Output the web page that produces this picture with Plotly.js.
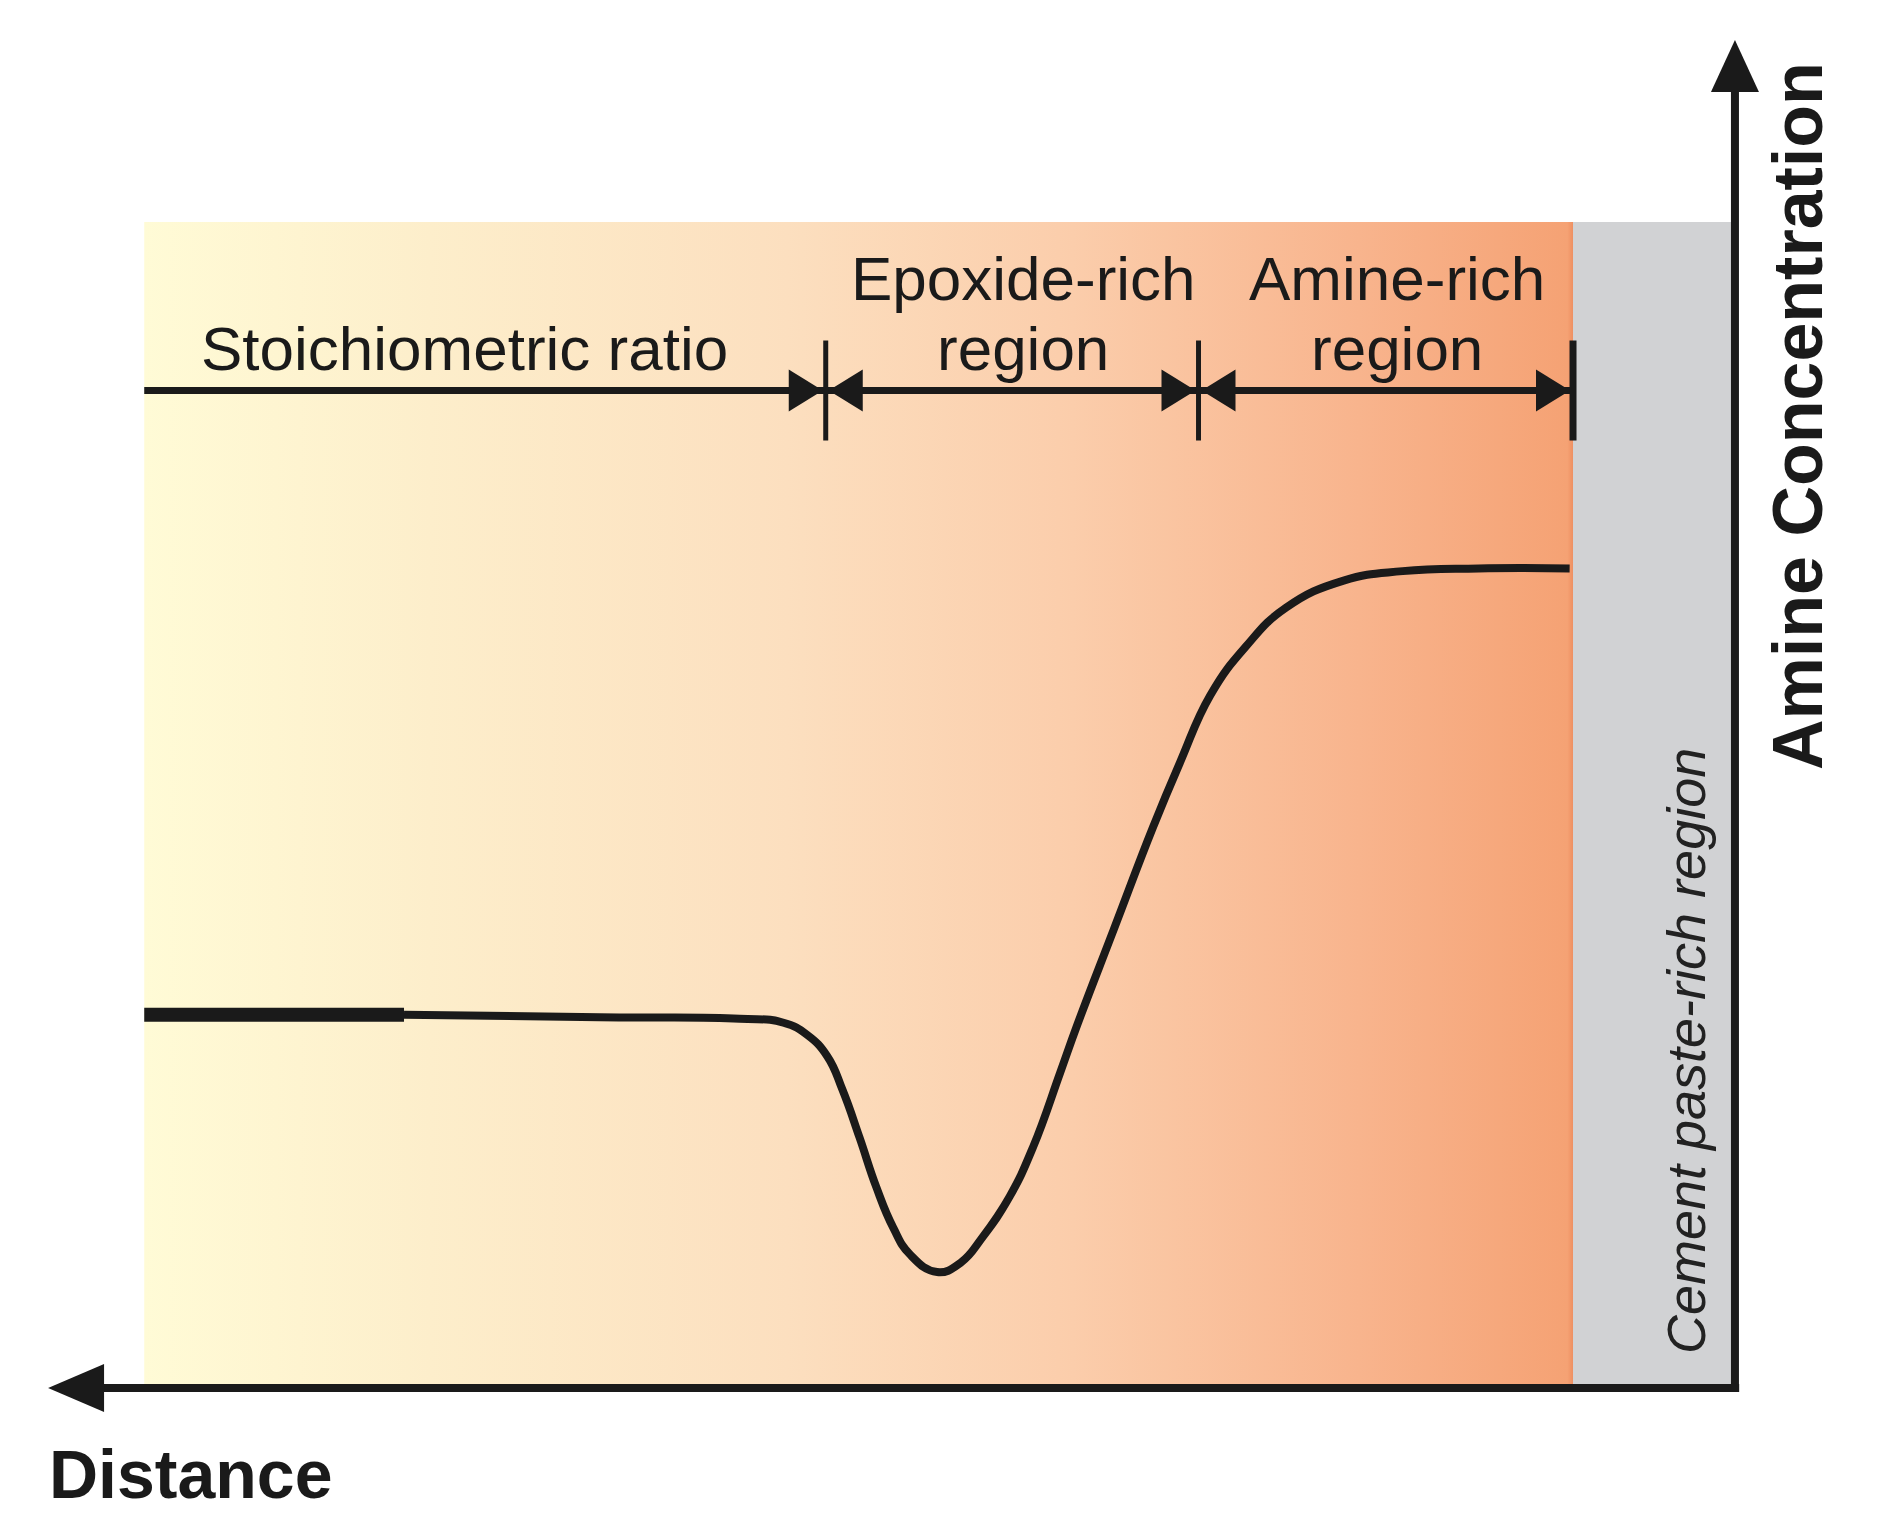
<!DOCTYPE html>
<html>
<head>
<meta charset="utf-8">
<script src="https://cdn.plot.ly/plotly-3.0.1.min.js"></script>
<style>
  html, body { margin: 0; padding: 0; background: #fff; }
  #chart { width: 1878px; height: 1539px; }
</style>
</head>
<body>
<div id="chart"></div>
<script>
// amine concentration profile
// distance runs from the cement paste side (right) towards the left
const distance = [94.3, 78.9, 67.3, 59.0, 56.4, 55.0, 53.8, 52.9, 51.9, 50.9, 49.9, 48.9, 47.3,
    45.9, 44.6, 43.0, 41.6, 40.0, 39.0, 36.8, 34.5, 32.9, 31.1, 29.0, 26.6, 23.2, 19.7, 15.2, 9.8];
const amine = [27.7, 27.7, 27.5, 27.4, 27.1, 26.2, 24.6, 22.1, 18.6, 14.9, 11.9, 9.9, 8.6,
    9.3, 11.2, 14.2, 17.9, 23.4, 26.9, 34.1, 41.6, 46.4, 51.4, 55.0, 57.9, 59.9, 60.6, 60.8, 60.8];

// region borders (same distance units), left edge -> cement paste edge
const regionEdges = [94.3, 53.9, 31.8, 9.6];
const regionTop = 86.5;
const regionLabels = [["Stoichiometric ratio"], ["Epoxide-rich", "region"], ["Amine-rich", "region"]];
const cementLabel = "Cement paste-rich region";
const xTitle = "Distance";
const yTitle = "Amine Concentration";

const ink = "#1a1a1a";
const font = "Liberation Sans, Arial, Helvetica, sans-serif";
const W = 1878, H = 1539;
// axis ends: x = 100 at the left arrow tip, y = 100 at the top arrow tip
const xRange = [102.85, -8.48];
const yRange = [-11.2, 102.97];

// background bands
const bg = {
    type: "scatter", mode: "none", hoverinfo: "skip",
    x: [regionEdges[0], regionEdges[3], regionEdges[3], regionEdges[0]],
    y: [0, 0, regionTop, regionTop],
    fill: "toself",
    fillgradient: {
        type: "horizontal", start: regionEdges[0], stop: regionEdges[3],
        colorscale: [[0, "#fffbd6"], [0.2, "#fdeecb"], [0.45, "#fcdfbf"], [0.65, "#fbcdab"],
            [0.85, "#f8b48d"], [0.996, "#f5a274"], [1, "#ee9062"]]
    }
};
const cement = {
    type: "scatter", mode: "none", hoverinfo: "skip",
    x: [regionEdges[3], 0, 0, regionEdges[3]],
    y: [0, 0, regionTop, regionTop],
    fill: "toself", fillcolor: "#d1d2d4"
};
const curve = {
    type: "scatter", mode: "lines", hoverinfo: "skip",
    x: distance.slice(1), y: amine.slice(1),
    line: {color: ink, width: 8, shape: "spline", smoothing: 1.3}
};
// the first stretch is drawn heavier in the original
const curveStart = {
    type: "scatter", mode: "lines", hoverinfo: "skip",
    x: distance.slice(0, 2), y: amine.slice(0, 2),
    line: {color: ink, width: 14}
};

// shapes: axes with arrow heads, dimension arrows
const dimY = 74.0;
const shapes = [];
const px = (xa, ya, path) => ({
    type: "path", xref: "x", yref: "y", xsizemode: "pixel", ysizemode: "pixel",
    xanchor: xa, yanchor: ya, path: path, fillcolor: ink, line: {width: 0}
});

// y axis
shapes.push({type: "line", xref: "x", yref: "y", xsizemode: "pixel",
    xanchor: 0, x0: 0, x1: 0, y0: -0.3, y1: 96.3, line: {color: ink, width: 8}});
shapes.push(px(0, 100, "M0,0 L-24,-52 L24,-52 Z"));
// x axis
shapes.push({type: "line", xref: "x", yref: "y", ysizemode: "pixel",
    yanchor: 0, x0: -0.25, x1: 96.8, y0: 0, y1: 0, line: {color: ink, width: 8}});
shapes.push(px(100, 0, "M0,0 L56,24 L56,-24 Z"));

// dimension line
shapes.push({type: "line", xref: "x", yref: "y", x0: regionEdges[0], x1: regionEdges[3],
    y0: dimY, y1: dimY, line: {color: ink, width: 7}});
regionEdges.slice(1).forEach((e, i) => {
    const last = i === regionEdges.length - 2;
    shapes.push({type: "line", xref: "x", yref: "y", ysizemode: "pixel", yanchor: dimY,
        x0: e, x1: e, y0: -50, y1: 50, line: {color: ink, width: last ? 7 : 5}});
    shapes.push(px(e, dimY, "M-3,0 L-37,-21 L-37,21 Z"));
    if (!last) shapes.push(px(e, dimY, "M3,0 L37,-21 L37,21 Z"));
});

// labels
const annotations = [];
const lineY = [82.3, 77.1];
const nudges = [-20, 11, 11];
regionLabels.forEach((lines, i) => {
    const mid = (regionEdges[i] + regionEdges[i + 1]) / 2;
    lines.forEach((t, j) => {
        annotations.push({
            text: t, x: mid, xref: "x", y: lineY[lineY.length - lines.length + j], yref: "y",
            xshift: nudges[i], showarrow: false, xanchor: "center", yanchor: "middle",
            font: {family: font, size: 62, color: ink}
        });
    });
});
annotations.push({
    text: cementLabel, x: 2.9, xref: "x", y: 25.0, yref: "y", textangle: -90,
    showarrow: false, xanchor: "center", yanchor: "middle",
    font: {family: font, size: 54, color: "#222", style: "italic"}
});
annotations.push({
    text: yTitle, x: -3.73, xref: "x", y: 72.1, yref: "y",
    textangle: -90, showarrow: false, xanchor: "center", yanchor: "middle",
    font: {family: font, size: 70, color: ink, weight: "bold"}
});
annotations.push({
    text: xTitle, x: 100.06, xref: "x", y: -6.4, yref: "y",
    showarrow: false, xanchor: "left", yanchor: "middle",
    font: {family: font, size: 68, color: ink, weight: "bold"}
});

const hidden = {showgrid: false, zeroline: false, showline: false,
    showticklabels: false, ticks: "", fixedrange: true};

const layout = {
    width: W, height: H,
    margin: {l: 0, r: 0, t: 0, b: 0},
    paper_bgcolor: "#ffffff", plot_bgcolor: "#ffffff",
    showlegend: false,
    xaxis: Object.assign({}, hidden, {range: xRange}),
    yaxis: Object.assign({}, hidden, {range: yRange}),
    shapes: shapes,
    annotations: annotations
};

Plotly.newPlot("chart", [bg, cement, curveStart, curve], layout, {staticPlot: true});
</script>
</body>
</html>
